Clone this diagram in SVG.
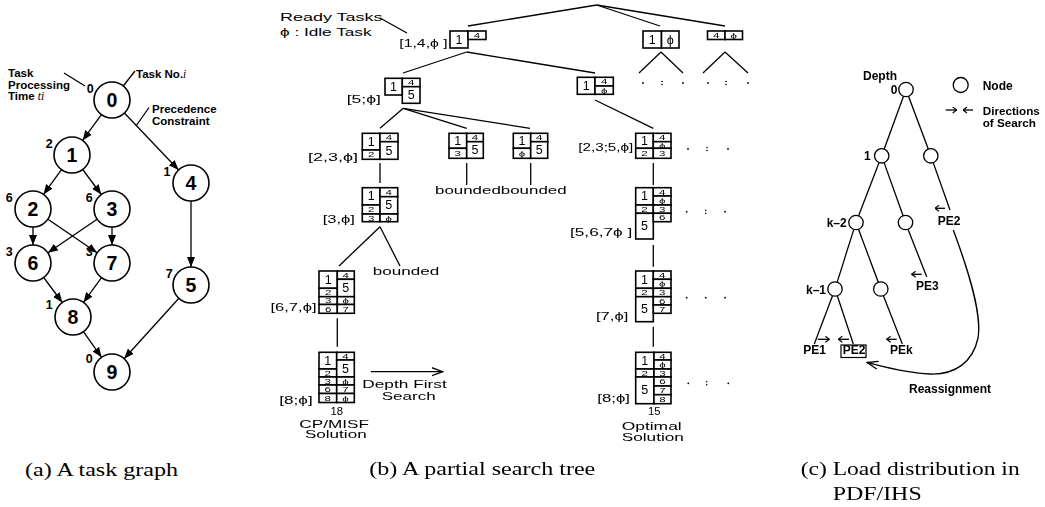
<svg xmlns="http://www.w3.org/2000/svg" width="1045" height="507" viewBox="0 0 1045 507">
  <style>
    .bold { font-family: "Liberation Sans", Arial, sans-serif; font-weight: bold; fill: #000; }
    .nd circle { fill: #fff; stroke: #000; stroke-width: 1.6; }
    .nl { font-family: "Liberation Sans", Arial, sans-serif; font-weight: bold; font-size: 19.5px; text-anchor: middle; fill: #000; }
    .w { font-size: 12.5px; text-anchor: end; }
    .ln { stroke: #000; stroke-width: 1.3; fill: none; }
    .lbl { font-family: "Liberation Sans", "DejaVu Sans", Arial, sans-serif; font-size: 11.3px; fill: #000; }
    .cell rect { fill: #fff; stroke: #000; stroke-width: 1.6; }
    .d { font-family: "Liberation Sans", "DejaVu Sans", Arial, sans-serif; text-anchor: middle; dominant-baseline: central; font-size: 12.5px; fill: #000; }
    /* one-unit slots: digits squeezed to fit the row height */
    .d.s { font-size: 10px; transform-box: fill-box; transform-origin: center; transform: scale(1.15, 0.72); }
    .dot { fill: #000; }
    .cap { font-family: "Liberation Serif", "Times New Roman", serif; font-size: 18px; fill: #000; }
    .tn circle { fill: #fff; stroke: #000; stroke-width: 1.3; }
    .it { font-family: "Liberation Serif", serif; font-style: italic; font-weight: normal; }
  </style>
  <defs>
    <marker id="fa" viewBox="0 0 10 8" refX="10" refY="4" markerWidth="10" markerHeight="8" markerUnits="userSpaceOnUse" orient="auto">
      <path d="M0,0 L10,4 L0,8 z" fill="#000"/>
    </marker>
    <marker id="oa" viewBox="0 0 12 10" refX="11" refY="5" markerWidth="12" markerHeight="10" markerUnits="userSpaceOnUse" orient="auto">
      <path d="M0,1 L11,5 L0,9" fill="none" stroke="#000" stroke-width="1.3"/>
    </marker>
    <marker id="sa" viewBox="0 0 5 7" refX="4.5" refY="3.5" markerWidth="5" markerHeight="7" markerUnits="userSpaceOnUse" orient="auto">
      <path d="M0.5,0.5 L4.5,3.5 L0.5,6.5" fill="none" stroke="#000" stroke-width="1.2"/>
    </marker>
    <!-- pass-through filter: schedule charts are drawn into one flat layer -->
    <filter id="flat" x="0" y="0" width="1045" height="507" filterUnits="userSpaceOnUse">
      <feOffset dx="0" dy="0"/>
    </filter>
  </defs>

  <rect width="1045" height="507" fill="#fff"/>

  <!-- ===== (a) task graph ===== -->
  <g id="a-notes" class="bold" font-size="11.5px">
    <text x="8" y="77">Task</text>
    <text x="8" y="89">Processing</text>
    <text x="8" y="99.5">Time <tspan class="it">ti</tspan></text>
    <text x="136" y="78">Task No.<tspan class="it">i</tspan></text>
    <text x="152" y="113">Precedence</text>
    <text x="152" y="124.5">Constraint</text>
  </g>
  <g id="a-leaders" class="ln" stroke-width="1.1">
    <line x1="64" y1="73" x2="85" y2="86"/>
    <line x1="135" y1="71" x2="117" y2="94"/>
    <line x1="149" y1="107.5" x2="136" y2="126"/>
  </g>

  <g id="a-edges" class="ln" marker-end="url(#fa)">
    <line x1="101.4" y1="114.6" x2="82.6" y2="140.4"/>
    <line x1="124.4" y1="113" x2="178.6" y2="170"/>
    <line x1="61.5" y1="169.6" x2="43.5" y2="194.4"/>
    <line x1="82.7" y1="169.5" x2="101.3" y2="194.5"/>
    <line x1="33" y1="227" x2="33" y2="245"/>
    <line x1="112" y1="227" x2="112" y2="245"/>
    <line x1="47.9" y1="219.2" x2="97.1" y2="252.8"/>
    <line x1="97.1" y1="219.2" x2="47.9" y2="252.8"/>
    <line x1="191" y1="201" x2="191" y2="267"/>
    <line x1="43.7" y1="277.5" x2="62.3" y2="302.5"/>
    <line x1="101.5" y1="277.6" x2="83.5" y2="302.4"/>
    <line x1="83.4" y1="331.7" x2="101.6" y2="357.3"/>
    <line x1="178.9" y1="298.3" x2="124.1" y2="358.7"/>
  </g>

  <g id="task0" class="nd"><circle cx="112" cy="100" r="18"/><text class="nl" x="112" y="107">0</text><text class="bold w" x="93.7" y="93">0</text></g>
  <g id="task1" class="nd"><circle cx="72" cy="155" r="18"/><text class="nl" x="72" y="162">1</text><text class="bold w" x="52.7" y="147.7">2</text></g>
  <g id="task4" class="nd"><circle cx="191" cy="183" r="18"/><text class="nl" x="191" y="190">4</text><text class="bold w" x="170.5" y="176">1</text></g>
  <g id="task2" class="nd"><circle cx="33" cy="209" r="18"/><text class="nl" x="33" y="216">2</text><text class="bold w" x="12.7" y="201.7">6</text></g>
  <g id="task3" class="nd"><circle cx="112" cy="209" r="18"/><text class="nl" x="112" y="216">3</text><text class="bold w" x="92.7" y="201.7">6</text></g>
  <g id="task6" class="nd"><circle cx="33" cy="263" r="18"/><text class="nl" x="33" y="270">6</text><text class="bold w" x="12.7" y="256">3</text></g>
  <g id="task7" class="nd"><circle cx="112" cy="263" r="18"/><text class="nl" x="112" y="270">7</text><text class="bold w" x="92.7" y="256">3</text></g>
  <g id="task5" class="nd"><circle cx="191" cy="285" r="18"/><text class="nl" x="191" y="292">5</text><text class="bold w" x="172.7" y="278.3">7</text></g>
  <g id="task8" class="nd"><circle cx="73" cy="317" r="18"/><text class="nl" x="73" y="324">8</text><text class="bold w" x="52.7" y="309.3">1</text></g>
  <g id="task9" class="nd"><circle cx="112" cy="372" r="18"/><text class="nl" x="112" y="379">9</text><text class="bold w" x="92.7" y="363.3">0</text></g>

  <text class="cap" x="25" y="475.5" textLength="153" lengthAdjust="spacingAndGlyphs">(a) A task graph</text>

  <!-- ===== (b) partial search tree ===== -->
  <g id="b-edges" class="ln" stroke-width="1.2">
    <line x1="380" y1="18" x2="407" y2="33"/>
    <line x1="596.7" y1="5" x2="468" y2="26"/>
    <line x1="596.7" y1="5" x2="660" y2="26"/>
    <line x1="596.7" y1="5" x2="725" y2="26"/>
    <line x1="466.7" y1="52" x2="403" y2="73"/>
    <line x1="466.7" y1="52" x2="595" y2="73"/>
    <line x1="661" y1="52" x2="639" y2="73"/>
    <line x1="661" y1="52" x2="683" y2="73"/>
    <line x1="725" y1="52" x2="703" y2="73"/>
    <line x1="725" y1="52" x2="748" y2="73"/>
    <line x1="403.3" y1="108.3" x2="380" y2="128.3"/>
    <line x1="403.3" y1="108.3" x2="466.7" y2="128.3"/>
    <line x1="403.3" y1="108.3" x2="530" y2="128.3"/>
    <line x1="595" y1="100" x2="653.3" y2="128.3"/>
    <line x1="380" y1="163" x2="380" y2="183"/>
    <line x1="466.7" y1="163" x2="466.7" y2="185"/>
    <line x1="530.7" y1="163" x2="530.7" y2="185"/>
    <line x1="653.3" y1="163" x2="653.3" y2="185"/>
    <line x1="380" y1="226.7" x2="339" y2="266"/>
    <line x1="380" y1="226.7" x2="400" y2="266"/>
    <line x1="653.3" y1="245" x2="653.3" y2="266.7"/>
    <line x1="337.3" y1="318.3" x2="337.3" y2="346.7"/>
    <line x1="653.3" y1="326.7" x2="653.3" y2="346.7"/>
    <line x1="371" y1="371.7" x2="442.7" y2="371.7" marker-end="url(#oa)"/>
  </g>

  <g id="b-dots" class="dot">
    <circle cx="643" cy="83" r="0.9"/><circle cx="662" cy="81.5" r="0.8"/><circle cx="662" cy="84.5" r="0.8"/><circle cx="683" cy="83" r="0.9"/>
    <circle cx="708" cy="83" r="0.9"/><circle cx="726" cy="81.5" r="0.8"/><circle cx="726" cy="84.5" r="0.8"/><circle cx="748" cy="83" r="0.9"/>
    <circle cx="688" cy="149" r="0.9"/><circle cx="707" cy="147.5" r="0.8"/><circle cx="707" cy="150.5" r="0.8"/><circle cx="728" cy="149" r="0.9"/>
    <circle cx="686.7" cy="211.7" r="0.9"/><circle cx="705.7" cy="210.2" r="0.8"/><circle cx="705.7" cy="213.2" r="0.8"/><circle cx="725" cy="211.7" r="0.9"/>
    <circle cx="686.7" cy="297.7" r="0.9"/><circle cx="705.7" cy="297.7" r="0.9"/><circle cx="725" cy="297.7" r="0.9"/>
    <circle cx="688.3" cy="383.3" r="0.9"/><circle cx="706.7" cy="381.8" r="0.8"/><circle cx="706.7" cy="384.8" r="0.8"/><circle cx="728.3" cy="383.3" r="0.9"/>
  </g>

  <g id="b-legend" class="lbl">
    <text x="280" y="20.5" textLength="102.5" lengthAdjust="spacingAndGlyphs">Ready Tasks</text>
    <text x="280" y="36" textLength="91.5" lengthAdjust="spacingAndGlyphs">ϕ : Idle Task</text>
  </g>

  <g id="schedules" filter="url(#flat)">
  <g id="s-root" class="cell">
    <rect x="450" y="31" width="18" height="17"/><text class="d" x="459" y="39.5">1</text>
    <rect x="468" y="31" width="18" height="8.5"/><text class="d s" x="477" y="35.25">4</text>
    <text class="lbl" x="399.3" y="47" textLength="48.4" lengthAdjust="spacingAndGlyphs">[1,4,ϕ ]</text>
  </g>
  <g id="s-1phi" class="cell">
    <rect x="643" y="31" width="18.5" height="17"/><text class="d" x="652.2" y="39.5">1</text>
    <rect x="661.5" y="31" width="17.5" height="17"/><text class="d" x="670.2" y="39.5">ϕ</text>
  </g>
  <g id="s-4phi" class="cell">
    <rect x="707.5" y="31" width="17.5" height="8.5"/><text class="d s" x="716.2" y="35.25">4</text>
    <rect x="725" y="31" width="17.5" height="8.5"/><text class="d s" x="733.7" y="35.25">ϕ</text>
  </g>
  <g id="s-5phi" class="cell">
    <rect x="385" y="78.3" width="17.3" height="16.7"/><text class="d" x="393.6" y="86.6">1</text>
    <rect x="402.3" y="78.3" width="17.7" height="8.4"/><text class="d s" x="411.2" y="82.5">4</text>
    <rect x="402.3" y="86.7" width="17.7" height="16.6"/><text class="d" x="411.2" y="95">5</text>
    <text class="lbl" x="346.7" y="102.5" textLength="34.3" lengthAdjust="spacingAndGlyphs">[5;ϕ]</text>
  </g>
  <g id="s-14phi" class="cell">
    <rect x="577.3" y="77.3" width="17.7" height="17"/><text class="d" x="586.2" y="85.8">1</text>
    <rect x="595" y="77.3" width="18.3" height="8.7"/><text class="d s" x="604.2" y="81.6">4</text>
    <rect x="595" y="86" width="18.3" height="8.3"/><text class="d s" x="604.2" y="90.1">ϕ</text>
  </g>
  <g id="s-23phi" class="cell">
    <rect x="362.3" y="133.3" width="17.7" height="16.7"/><text class="d" x="371.2" y="141.6">1</text>
    <rect x="362.3" y="150" width="17.7" height="9.3"/><text class="d s" x="371.2" y="154.6">2</text>
    <rect x="380" y="133.3" width="18" height="8.4"/><text class="d s" x="389" y="137.5">4</text>
    <rect x="380" y="141.7" width="18" height="17.6"/><text class="d" x="389" y="150.5">5</text>
    <text class="lbl" x="308" y="161" textLength="50" lengthAdjust="spacingAndGlyphs">[2,3,ϕ]</text>
  </g>
  <g id="s-b1" class="cell">
    <rect x="449" y="133.3" width="17.7" height="15"/><text class="d" x="457.8" y="140.8">1</text>
    <rect x="449" y="148.3" width="17.7" height="10"/><text class="d s" x="457.8" y="153.3">3</text>
    <rect x="466.7" y="133.3" width="16.6" height="8.4"/><text class="d s" x="475" y="137.5">4</text>
    <rect x="466.7" y="141.7" width="16.6" height="16.6"/><text class="d" x="475" y="150">5</text>
  </g>
  <g id="s-b2" class="cell">
    <rect x="513.3" y="133.3" width="17.4" height="15"/><text class="d" x="522" y="140.8">1</text>
    <rect x="513.3" y="148.3" width="17.4" height="10"/><text class="d s" x="522" y="153.3">ϕ</text>
    <rect x="530.7" y="133.3" width="17" height="8.4"/><text class="d s" x="539.2" y="137.5">4</text>
    <rect x="530.7" y="141.7" width="17" height="16.6"/><text class="d" x="539.2" y="150">5</text>
  </g>
  <g id="s-235phi" class="cell">
    <rect x="635.7" y="133.3" width="17.6" height="15"/><text class="d" x="644.5" y="140.8">1</text>
    <rect x="635.7" y="148.3" width="17.6" height="10"/><text class="d s" x="644.5" y="153.3">2</text>
    <rect x="653.3" y="133.3" width="17.7" height="8.4"/><text class="d s" x="662.2" y="137.5">4</text>
    <rect x="653.3" y="141.7" width="17.7" height="6.6"/><text class="d s" x="662.2" y="145" font-size="8.5px">ϕ</text>
    <rect x="653.3" y="148.3" width="17.7" height="10"/><text class="d s" x="662.2" y="153.3">3</text>
    <text class="lbl" x="578.3" y="151" textLength="55" lengthAdjust="spacingAndGlyphs">[2,3;5,ϕ]</text>
  </g>
  <g id="s-3phi" class="cell">
    <rect x="362.3" y="187.7" width="17.7" height="17.3"/><text class="d" x="371.2" y="196.3">1</text>
    <rect x="362.3" y="205" width="17.7" height="9"/><text class="d s" x="371.2" y="209.5">2</text>
    <rect x="362.3" y="214" width="17.7" height="7.7"/><text class="d s" x="371.2" y="217.9">3</text>
    <rect x="380" y="187.7" width="17.7" height="9"/><text class="d s" x="388.8" y="192.2">4</text>
    <rect x="380" y="196.7" width="17.7" height="17.3"/><text class="d" x="388.8" y="205.3">5</text>
    <rect x="380" y="214" width="17.7" height="7.7"/><text class="d s" x="388.8" y="217.9">ϕ</text>
    <text class="lbl" x="322.7" y="222.5" textLength="32.3" lengthAdjust="spacingAndGlyphs">[3,ϕ]</text>
  </g>
  <g id="s-567phi" class="cell">
    <rect x="635.7" y="187.7" width="17.6" height="17.3"/><text class="d" x="644.5" y="196.3">1</text>
    <rect x="635.7" y="205" width="17.6" height="8.3"/><text class="d s" x="644.5" y="209.2">2</text>
    <rect x="635.7" y="213.3" width="17.6" height="25.7"/><text class="d" x="644.5" y="226.2">5</text>
    <rect x="653.3" y="187.7" width="17.7" height="8.3"/><text class="d s" x="662.2" y="191.9">4</text>
    <rect x="653.3" y="196" width="17.7" height="9"/><text class="d s" x="662.2" y="200.5">ϕ</text>
    <rect x="653.3" y="205" width="17.7" height="8.3"/><text class="d s" x="662.2" y="209.2">3</text>
    <rect x="653.3" y="213.3" width="17.7" height="8.4"/><text class="d s" x="662.2" y="217.5">6</text>
    <text class="lbl" x="570" y="236" textLength="62.3" lengthAdjust="spacingAndGlyphs">[5,6,7ϕ ]</text>
  </g>
  <g id="s-67phi" class="cell">
    <rect x="319" y="271" width="18.3" height="17.3"/><text class="d" x="328.2" y="279.6">1</text>
    <rect x="319" y="288.3" width="18.3" height="8.4"/><text class="d s" x="328.2" y="292.5">2</text>
    <rect x="319" y="296.7" width="18.3" height="7.8"/><text class="d s" x="328.2" y="300.6">3</text>
    <rect x="319" y="304.5" width="18.3" height="8.8"/><text class="d s" x="328.2" y="308.9">6</text>
    <rect x="337.3" y="271" width="17" height="8.3"/><text class="d s" x="345.8" y="275.2">4</text>
    <rect x="337.3" y="279.3" width="17" height="17.4"/><text class="d" x="345.8" y="288">5</text>
    <rect x="337.3" y="296.7" width="17" height="7.8"/><text class="d s" x="345.8" y="300.6">ϕ</text>
    <rect x="337.3" y="304.5" width="17" height="8.8"/><text class="d s" x="345.8" y="308.9">7</text>
    <text class="lbl" x="270.5" y="311" textLength="46" lengthAdjust="spacingAndGlyphs">[6,7,ϕ]</text>
  </g>
  <g id="s-7phi" class="cell">
    <rect x="635.7" y="271" width="17.6" height="17.3"/><text class="d" x="644.5" y="279.6">1</text>
    <rect x="635.7" y="288.3" width="17.6" height="8.4"/><text class="d s" x="644.5" y="292.5">2</text>
    <rect x="635.7" y="296.7" width="17.6" height="25"/><text class="d" x="644.5" y="309.2">5</text>
    <rect x="653.3" y="271" width="17.7" height="8.3"/><text class="d s" x="662.2" y="275.2">4</text>
    <rect x="653.3" y="279.3" width="17.7" height="9"/><text class="d s" x="662.2" y="283.8">ϕ</text>
    <rect x="653.3" y="288.3" width="17.7" height="8.4"/><text class="d s" x="662.2" y="292.5">3</text>
    <rect x="653.3" y="296.7" width="17.7" height="8.3"/><text class="d s" x="662.2" y="300.9">6</text>
    <rect x="653.3" y="305" width="17.7" height="8.3"/><text class="d s" x="662.2" y="309.2">7</text>
    <text class="lbl" x="596" y="320" textLength="32.3" lengthAdjust="spacingAndGlyphs">[7,ϕ]</text>
  </g>
  <g id="s-cpmisf" class="cell">
    <rect x="319" y="352.3" width="17.7" height="16.7"/><text class="d" x="327.8" y="360.6">1</text>
    <rect x="319" y="369" width="17.7" height="8"/><text class="d s" x="327.8" y="373">2</text>
    <rect x="319" y="377" width="17.7" height="8"/><text class="d s" x="327.8" y="381">3</text>
    <rect x="319" y="385" width="17.7" height="8.5"/><text class="d s" x="327.8" y="389.2">6</text>
    <rect x="319" y="393.5" width="17.7" height="9"/><text class="d s" x="327.8" y="398">8</text>
    <rect x="336.7" y="352.3" width="17.6" height="7.7"/><text class="d s" x="345.5" y="356.2">4</text>
    <rect x="336.7" y="360" width="17.6" height="17"/><text class="d" x="345.5" y="368.5">5</text>
    <rect x="336.7" y="377" width="17.6" height="8"/><text class="d s" x="345.5" y="381">ϕ</text>
    <rect x="336.7" y="385" width="17.6" height="8.5"/><text class="d s" x="345.5" y="389.2">7</text>
    <rect x="336.7" y="393.5" width="17.6" height="9"/><text class="d s" x="345.5" y="398">ϕ</text>
    <text class="lbl" x="279.3" y="403.5" textLength="33.4" lengthAdjust="spacingAndGlyphs">[8;ϕ]</text>
  </g>
  <g id="s-optimal" class="cell">
    <rect x="635.7" y="352.3" width="18.3" height="16.7"/><text class="d" x="644.8" y="360.6">1</text>
    <rect x="635.7" y="369" width="18.3" height="8"/><text class="d s" x="644.8" y="373">2</text>
    <rect x="635.7" y="377" width="18.3" height="26.7"/><text class="d" x="644.8" y="390.3">5</text>
    <rect x="654" y="352.3" width="17" height="7.7"/><text class="d s" x="662.5" y="356.2">4</text>
    <rect x="654" y="360" width="17" height="9"/><text class="d s" x="662.5" y="364.5">ϕ</text>
    <rect x="654" y="369" width="17" height="8"/><text class="d s" x="662.5" y="373">3</text>
    <rect x="654" y="377" width="17" height="9"/><text class="d s" x="662.5" y="381.5">6</text>
    <rect x="654" y="386" width="17" height="8.7"/><text class="d s" x="662.5" y="390.3">7</text>
    <rect x="654" y="394.7" width="17" height="9"/><text class="d s" x="662.5" y="399.2">8</text>
    <text class="lbl" x="597.3" y="401.5" textLength="32.7" lengthAdjust="spacingAndGlyphs">[8;ϕ]</text>
  </g>
  </g>

  <g id="bounded-1" class="lbl">
    <text x="435" y="194" textLength="65.8" lengthAdjust="spacingAndGlyphs">bounded</text>
    <text x="500.8" y="194" textLength="65.8" lengthAdjust="spacingAndGlyphs">bounded</text>
  </g>
  <g id="bounded-2" class="lbl">
    <text x="372.7" y="275" textLength="66.6" lengthAdjust="spacingAndGlyphs">bounded</text>
  </g>
  <g id="cpmisf-label" class="lbl" text-anchor="middle">
    <text x="336.7" y="414.5">18</text>
    <text x="334.2" y="427.7" textLength="69.7" lengthAdjust="spacingAndGlyphs">CP/MISF</text>
    <text x="335.8" y="438.3" textLength="61.7" lengthAdjust="spacingAndGlyphs">Solution</text>
  </g>
  <g id="optimal-label" class="lbl" text-anchor="middle">
    <text x="654.3" y="415">15</text>
    <text x="651.7" y="430" textLength="60" lengthAdjust="spacingAndGlyphs">Optimal</text>
    <text x="652.8" y="441" textLength="62.3" lengthAdjust="spacingAndGlyphs">Solution</text>
  </g>
  <g id="dfs-label" class="lbl">
    <text x="362.3" y="388" textLength="84.4" lengthAdjust="spacingAndGlyphs">Depth First</text>
    <text x="381.7" y="400" textLength="54" lengthAdjust="spacingAndGlyphs">Search</text>
  </g>

  <text class="cap" x="369.3" y="475" textLength="226" lengthAdjust="spacingAndGlyphs">(b) A partial search tree</text>

  <!-- ===== (c) load distribution ===== -->
  <g id="c-edges" class="ln" stroke-width="1.2">
    <line x1="903.5" y1="96.3" x2="884.2" y2="149"/>
    <line x1="908.5" y1="96.2" x2="928.3" y2="149"/>
    <line x1="879.1" y1="162.5" x2="858.6" y2="215.8"/>
    <line x1="884.1" y1="162.6" x2="903.1" y2="215.7"/>
    <line x1="933.2" y1="162.6" x2="950" y2="210"/>
    <line x1="908" y1="229.3" x2="926.7" y2="276.7"/>
    <line x1="853.8" y1="229.4" x2="837.2" y2="282.1"/>
    <line x1="858.5" y1="229.2" x2="878.3" y2="282.3"/>
    <line x1="832.5" y1="295.7" x2="814.3" y2="344"/>
    <line x1="837.3" y1="295.8" x2="853.3" y2="344"/>
    <line x1="883.4" y1="295.7" x2="902.3" y2="344"/>
    <path d="M953.3,230 C970,275 982,315 978,338 C973,362 955,375 930,374 C905,373 885,367 867,362.5" marker-end="url(#oa)"/>
  </g>
  <g id="c-search-arrows" class="ln" stroke-width="1.2" marker-end="url(#sa)">
    <line x1="945.7" y1="110" x2="956.7" y2="110"/>
    <line x1="973" y1="110" x2="963" y2="110"/>
    <line x1="945" y1="208.3" x2="935" y2="208.3"/>
    <line x1="921.7" y1="274.3" x2="911.7" y2="274.3"/>
    <line x1="817.7" y1="339.3" x2="829.3" y2="339.3"/>
    <line x1="849" y1="339.3" x2="838.3" y2="339.3"/>
    <line x1="896.7" y1="339.3" x2="886.7" y2="339.3"/>
  </g>
  <g id="c-root" class="tn"><circle cx="906" cy="89.5" r="7.2"/></g>
  <g id="c-d1a" class="tn"><circle cx="881.7" cy="155.8" r="7.2"/></g>
  <g id="c-d1b" class="tn"><circle cx="930.8" cy="155.8" r="7.2"/></g>
  <g id="c-d2a" class="tn"><circle cx="856" cy="222.5" r="7.2"/></g>
  <g id="c-d2b" class="tn"><circle cx="905.5" cy="222.5" r="7.2"/></g>
  <g id="c-d3a" class="tn"><circle cx="835" cy="289" r="7.2"/></g>
  <g id="c-d3b" class="tn"><circle cx="880.8" cy="289" r="7.2"/></g>
  <g id="c-legend" class="tn">
    <circle cx="960.7" cy="85" r="7.5"/>
    <text class="bold" font-size="12px" x="982.7" y="89.5">Node</text>
    <text class="bold" font-size="11.7px" x="982.7" y="114.5">Directions</text>
    <text class="bold" font-size="11.7px" x="982.7" y="127">of Search</text>
  </g>
  <g id="c-labels" class="bold" font-size="12px">
    <text x="880" y="79.5" text-anchor="middle">Depth</text>
    <text x="897.5" y="94" text-anchor="end">0</text>
    <text x="870.7" y="160" text-anchor="end">1</text>
    <text x="846.7" y="226.5" text-anchor="end">k–2</text>
    <text x="826" y="293.5" text-anchor="end">k–1</text>
    <text x="937.7" y="224.5">PE2</text>
    <text x="916" y="290">PE3</text>
    <text x="803.3" y="354">PE1</text>
    <text x="842.7" y="354">PE2</text>
    <text x="890" y="354">PEk</text>
    <text x="950" y="392.5" text-anchor="middle">Reassignment</text>
  </g>
  <rect id="c-pe2-box" x="841" y="345" width="25" height="12.5" fill="none" stroke="#000" stroke-width="1.2"/>

  <text class="cap" x="800.7" y="475" textLength="219" lengthAdjust="spacingAndGlyphs">(c) Load distribution in</text>
  <text class="cap" x="832.7" y="500" textLength="89" lengthAdjust="spacingAndGlyphs">PDF/IHS</text>
</svg>
